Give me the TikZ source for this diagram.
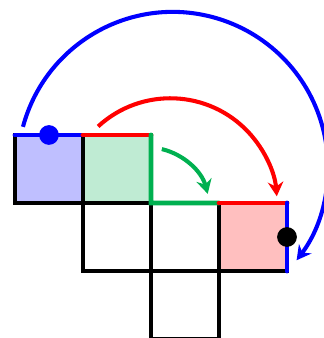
\documentclass[tikz,border=0pt]{standalone}
\usetikzlibrary{arrows.meta}
\definecolor{gline}{RGB}{0,176,80}
\definecolor{bfill}{RGB}{191,191,255}
\definecolor{gfill}{RGB}{191,235,211}
\definecolor{rfill}{RGB}{255,191,191}
\tikzset{
  sq/.style={draw=black, line width=1.7pt, minimum width=1cm, minimum height=1cm, inner sep=0pt, outer sep=0pt},
  edge/.style={line width=2pt, line cap=round},
  arc/.style={line width=1.7pt, -{Stealth[length=6pt,width=6.5pt,inset=2pt]}},
  dot/.style={circle, inner sep=0pt, minimum size=0.29cm}
}
\begin{document}
\begin{tikzpicture}
\useasboundingbox (-0.22,0.015) rectangle (4.53,4.985);
\node[sq, fill=bfill] (A) at (0.5,2.5) {};
\node[sq, fill=gfill] (B) at (1.5,2.5) {};
\node[sq] (C) at (1.5,1.5) {};
\node[sq] (D) at (2.5,1.5) {};
\node[sq, fill=rfill] (E) at (3.5,1.5) {};
\node[sq] (F) at (2.5,0.5) {};
% coloured edges
\draw[edge, blue] (A.north west) -- (A.north east);
\draw[edge, red] (B.north west) -- (B.north east);
\draw[edge, gline] (B.north east) -- (B.south east) -- (D.north east);
\draw[edge, red] (E.north west) -- (E.north east);
\draw[edge, blue] (E.north east) -- (E.south east);
% arc centres
\coordinate (cb) at (2.32,2.53);
\coordinate (cr) at (2.285,1.97);
\coordinate (cg) at (1.945,1.898);
\draw[arc, blue] ([shift={(165:2.28)}]cb) arc[start angle=165, end angle=-37, radius=2.28cm];
\draw[arc, red] ([shift={(132.6:1.57)}]cr) arc[start angle=132.6, end angle=4.7, radius=1.57cm];
\draw[arc, gline] ([shift={(76.5:0.92)}]cg) arc[start angle=76.5, end angle=14.9, radius=0.92cm];
% dots
\node[dot, fill=blue] (p) at (A.north) {};
\node[dot, fill=black] (q) at (E.east) {};
\end{tikzpicture}
\end{document}
